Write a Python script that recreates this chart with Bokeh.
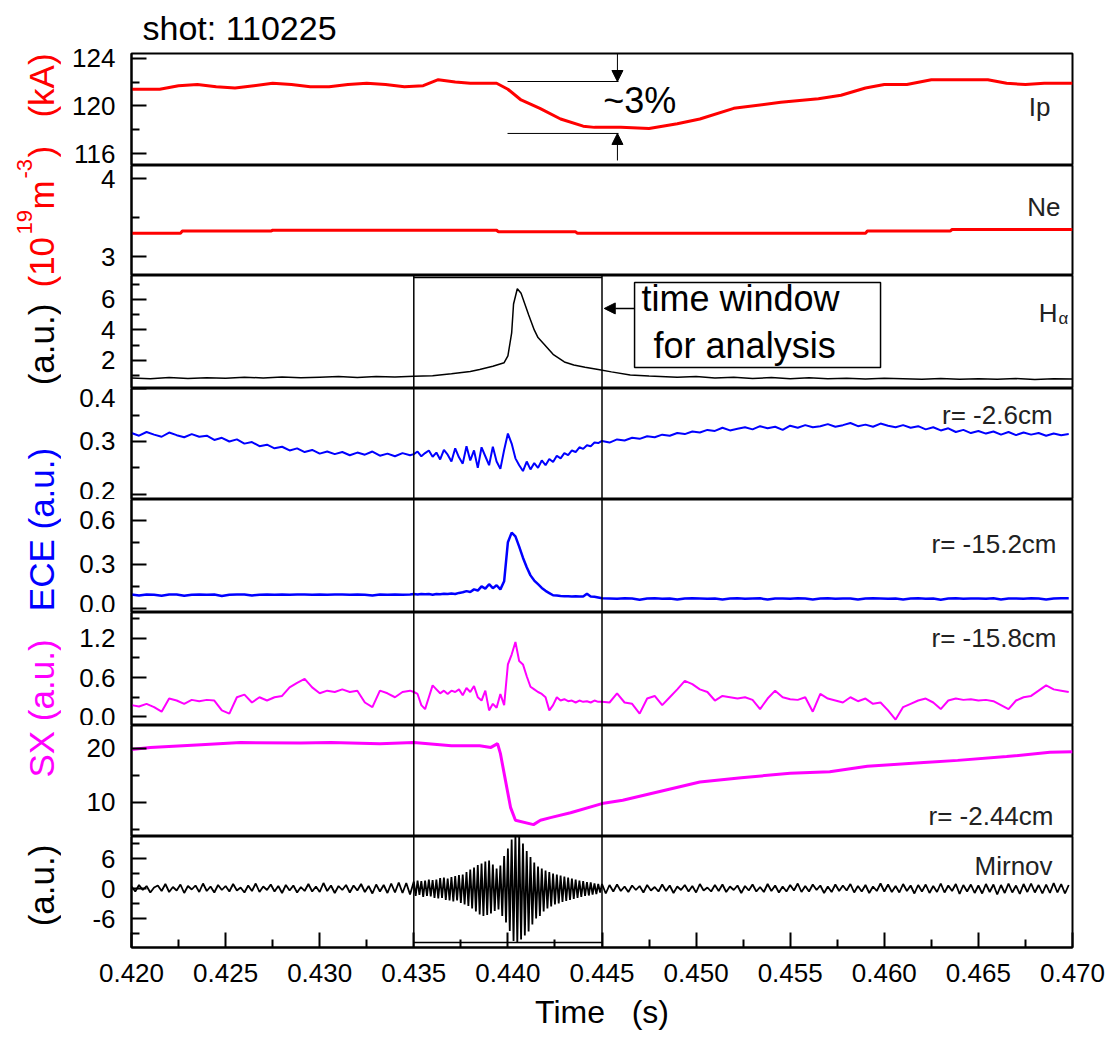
import numpy as np
from bokeh.plotting import figure
from bokeh.layouts import row, column
from bokeh.models import (Range1d, FixedTicker, PrintfTickFormatter, Span, Label,
                          BoxAnnotation, Arrow, NormalHead)
from bokeh.embed import file_html
from bokeh.resources import INLINE

FONT = "Liberation Sans"

# ---------------- data ----------------
shot = "110225"
x_ticks = [0.420, 0.425, 0.430, 0.435, 0.440, 0.445, 0.450, 0.455, 0.460, 0.465, 0.470]
x_minor = [0.4225, 0.4275, 0.4325, 0.4375, 0.4425, 0.4475, 0.4525, 0.4575, 0.4625, 0.4675]
window = [0.435, 0.445]

# plasma current (kA)
ip_t = [0.4200, 0.4215, 0.4225, 0.4235, 0.4245, 0.4255, 0.4265, 0.4275, 0.4285, 0.4295,
        0.4305, 0.4315, 0.4325, 0.4335, 0.4345, 0.4355, 0.4363, 0.4372, 0.4380, 0.4394,
        0.4400, 0.4407, 0.4417, 0.4428, 0.4440, 0.4446, 0.4460, 0.4475, 0.4490, 0.4502,
        0.4520, 0.4545, 0.4565, 0.4577, 0.4590, 0.4600, 0.4612, 0.4625, 0.4640, 0.4655,
        0.4665, 0.4675, 0.4685, 0.4700]
ip_v = [121.4, 121.4, 121.7, 121.8, 121.6, 121.5, 121.7, 121.9, 121.8, 121.6,
        121.6, 121.8, 121.9, 121.8, 121.6, 121.7, 122.2, 122.0, 121.9, 121.9,
        121.4, 120.5, 119.8, 118.9, 118.3, 118.2, 118.2, 118.1, 118.5, 118.9,
        119.8, 120.3, 120.6, 120.9, 121.5, 121.8, 121.8, 122.2, 122.2, 122.2,
        121.9, 121.8, 121.9, 121.9]
ip_drop_t = [0.43998, 0.44588]
ip_drop_levels = [122.05, 117.69]

# line-averaged density (1e19 m^-3)
ne_t = [0.4200, 0.4226, 0.4227, 0.4274, 0.4275, 0.4394, 0.4395, 0.4436, 0.4437, 0.4590,
        0.4591, 0.4635, 0.4636, 0.4700]
ne_v = [3.30, 3.30, 3.33, 3.33, 3.34, 3.34, 3.32, 3.32, 3.30, 3.30,
        3.33, 3.33, 3.35, 3.35]

# H-alpha (a.u.)
ha_t = [0.4200, 0.4210, 0.4220, 0.4230, 0.4240, 0.4250, 0.4260, 0.4270, 0.4280, 0.4290,
        0.4300, 0.4310, 0.4320, 0.4330, 0.4340, 0.4350, 0.4360, 0.4370, 0.4380, 0.4385,
        0.4392, 0.4398, 0.4400, 0.4402, 0.4403, 0.4405, 0.4407, 0.4409, 0.4411, 0.4414,
        0.4416, 0.4419, 0.4424, 0.4430, 0.4435, 0.4441, 0.4448, 0.4455, 0.4465, 0.4475,
        0.4490, 0.4500, 0.4510, 0.4520, 0.4530, 0.4540, 0.4550, 0.4560, 0.4570, 0.4580,
        0.4590, 0.4600, 0.4610, 0.4620, 0.4630, 0.4640, 0.4650, 0.4660, 0.4670, 0.4680,
        0.4690, 0.4700]
ha_v = [0.85, 0.80, 0.88, 0.82, 0.86, 0.83, 0.90, 0.85, 0.92, 0.86,
        0.90, 0.94, 0.88, 0.95, 0.92, 0.97, 1.00, 1.12, 1.28, 1.40,
        1.62, 1.85, 2.30, 3.80, 5.70, 6.70, 6.40, 5.70, 5.00, 4.00,
        3.50, 3.10, 2.40, 1.90, 1.70, 1.55, 1.40, 1.25, 1.05, 0.98,
        0.90, 0.95, 0.85, 0.90, 0.82, 0.88, 0.80, 0.86, 0.80, 0.84,
        0.78, 0.83, 0.80, 0.76, 0.82, 0.77, 0.80, 0.76, 0.81, 0.75,
        0.80, 0.78]

# sampled signals: before window (0.4 ms), inside window (0.2 ms), after window (0.4 ms)
t_pre0, dt_pre = 0.4200, 0.0004
t_win0, dt_win = 0.4350, 0.0002
t_post0, dt_post = 0.4450, 0.0004

ece1_pre = [0.316, 0.311, 0.318, 0.313, 0.309, 0.317, 0.312, 0.308, 0.314, 0.309,
            0.311, 0.303, 0.307, 0.300, 0.304, 0.296, 0.299, 0.291, 0.294, 0.287,
            0.290, 0.283, 0.287, 0.280, 0.284, 0.277, 0.281, 0.276, 0.280, 0.274,
            0.279, 0.275, 0.281, 0.273, 0.277, 0.272, 0.278, 0.274]
ece1_win = [0.276, 0.281, 0.272, 0.278, 0.283, 0.271, 0.279, 0.266, 0.284, 0.275,
            0.262, 0.287, 0.270, 0.258, 0.291, 0.264, 0.283, 0.250, 0.289, 0.272,
            0.255, 0.290, 0.262, 0.248, 0.284, 0.315, 0.296, 0.268, 0.255, 0.244,
            0.262, 0.247, 0.259, 0.250, 0.264, 0.255, 0.267, 0.261, 0.273, 0.268,
            0.278, 0.274, 0.283, 0.280, 0.289, 0.286, 0.293, 0.291, 0.298, 0.297]
ece1_post = [0.301, 0.298, 0.304, 0.302, 0.307, 0.305, 0.310, 0.308, 0.313, 0.311,
             0.316, 0.314, 0.319, 0.317, 0.322, 0.320, 0.326, 0.321, 0.324, 0.327,
             0.323, 0.329, 0.325, 0.328, 0.322, 0.330, 0.326, 0.331, 0.327, 0.329,
             0.333, 0.328, 0.331, 0.335, 0.329, 0.332, 0.328, 0.334, 0.330, 0.327,
             0.331, 0.326, 0.329, 0.323, 0.327, 0.321, 0.325, 0.318, 0.322, 0.316,
             0.320, 0.315, 0.319, 0.313, 0.318, 0.312, 0.317, 0.313, 0.316, 0.311,
             0.315, 0.312, 0.314]

ece2_pre = [0.095, 0.088, 0.095, 0.094, 0.087, 0.095, 0.095, 0.086, 0.094, 0.095,
            0.094, 0.095, 0.085, 0.094, 0.095, 0.095, 0.088, 0.094, 0.095, 0.094,
            0.095, 0.094, 0.095, 0.095, 0.094, 0.095, 0.094, 0.095, 0.095, 0.094,
            0.095, 0.094, 0.088, 0.095, 0.094, 0.095, 0.094, 0.095]
ece2_win = [0.098, 0.095, 0.099, 0.097, 0.098, 0.094, 0.099, 0.097, 0.100, 0.098,
            0.102, 0.099, 0.106, 0.110, 0.118, 0.112, 0.130, 0.122, 0.150, 0.135,
            0.165, 0.138, 0.158, 0.130, 0.185, 0.450, 0.515, 0.490, 0.420, 0.345,
            0.280, 0.225, 0.190, 0.165, 0.140, 0.120, 0.105, 0.090, 0.088, 0.085,
            0.084, 0.083, 0.082, 0.083, 0.082, 0.081, 0.100, 0.082, 0.080, 0.075]
ece2_post = [0.070, 0.068, 0.066, 0.069, 0.068, 0.060, 0.068, 0.069, 0.067, 0.068,
             0.061, 0.068, 0.069, 0.068, 0.067, 0.068, 0.062, 0.068, 0.069, 0.067,
             0.068, 0.069, 0.061, 0.068, 0.068, 0.067, 0.069, 0.068, 0.062, 0.068,
             0.069, 0.067, 0.068, 0.068, 0.061, 0.068, 0.069, 0.068, 0.067, 0.068,
             0.062, 0.068, 0.069, 0.067, 0.068, 0.060, 0.068, 0.069, 0.067, 0.068,
             0.068, 0.067, 0.069, 0.061, 0.068, 0.068, 0.067, 0.069, 0.068, 0.062,
             0.068, 0.069, 0.070]

sx1_pre = [0.18, 0.16, 0.20, 0.15, 0.08, 0.28, 0.25, 0.20, 0.26, 0.24,
           0.26, 0.25, 0.10, 0.05, 0.30, 0.34, 0.22, 0.30, 0.25, 0.30,
           0.32, 0.45, 0.52, 0.58, 0.45, 0.36, 0.40, 0.38, 0.42, 0.38,
           0.40, 0.22, 0.15, 0.40, 0.36, 0.30, 0.38, 0.40]
sx1_win = [0.38, 0.35, 0.18, 0.12, 0.30, 0.48, 0.42, 0.36, 0.40, 0.35,
           0.40, 0.38, 0.42, 0.33, 0.44, 0.38, 0.47, 0.30, 0.25, 0.40,
           0.10, 0.20, 0.14, 0.35, 0.18, 0.80, 0.95, 1.14, 0.85, 0.80,
           0.62, 0.46, 0.42, 0.38, 0.35, 0.30, 0.10, 0.18, 0.30, 0.25,
           0.27, 0.24, 0.25, 0.22, 0.25, 0.23, 0.24, 0.22, 0.25, 0.23]
sx1_post = [0.23, 0.22, 0.36, 0.22, 0.20, 0.05, 0.28, 0.32, 0.18, 0.30,
            0.42, 0.55, 0.50, 0.42, 0.38, 0.25, 0.32, 0.30, 0.28, 0.30,
            0.26, 0.12, 0.28, 0.40, 0.30, 0.27, 0.26, 0.30, 0.08, 0.35,
            0.28, 0.25, 0.22, 0.30, 0.24, 0.28, 0.20, 0.22, 0.10, -0.04,
            0.15, 0.20, 0.25, 0.28, 0.22, 0.12, 0.25, 0.28, 0.26, 0.27,
            0.25, 0.26, 0.24, 0.18, 0.12, 0.25, 0.30, 0.32, 0.40, 0.48,
            0.42, 0.40, 0.38]

sx2_t = [0.4200, 0.4210, 0.4237, 0.4258, 0.4290, 0.4306, 0.4332, 0.4350, 0.4370, 0.4385,
         0.4391, 0.43945, 0.4396, 0.43987, 0.44014, 0.4404, 0.44136, 0.44173, 0.44226, 0.44333,
         0.4450, 0.4461, 0.4479, 0.4502, 0.4524, 0.4550, 0.4571, 0.4591, 0.4621, 0.4639,
         0.4665, 0.4688, 0.4700]
sx2_v = [19.8, 20.2, 20.7, 21.1, 21.0, 21.1, 20.9, 21.1, 20.5, 20.5,
         20.2, 20.9, 19.1, 14.1, 9.1, 6.7, 5.9, 6.7, 7.2, 8.1,
         9.8, 10.4, 11.9, 13.8, 14.6, 15.4, 15.7, 16.7, 17.4, 17.8,
         18.5, 19.3, 19.4]

# Mirnov coil: 0.2 ms before/after, 0.1 ms inside the window
mir_dt_out = 0.0002
mir_dt_win = 0.0001
mir_pre = [0.4, -0.6, 0.7, -0.3, 0.5, -0.8, 0.2, 0.6, -0.5, 0.9,
           -0.7, 0.3, -0.4, 0.8, -0.9, 0.5, -0.2, 0.6, -0.7, 1.0,
           -0.5, 0.4, -0.8, 0.7, -0.3, 0.5, -0.6, 0.9, -0.4, 0.2,
           -0.8, 0.6, -0.5, 1.0, -0.7, 0.4, -0.3, 0.8, -0.6, 0.5,
           -0.9, 0.7, -0.4, 0.6, -0.8, 0.3, -0.5, 0.9, -0.6, 0.4,
           -0.7, 1.1, -0.5, 0.6, -0.9, 0.5, -0.3, 0.7, -0.8, 0.6,
           -0.4, 0.9, -0.7, 0.5, -1.0, 0.8, -0.6, 0.7, -0.9, 1.0,
           -0.8, 1.2, -0.9, 1.1, -1.2]
mir_win = [1.4, -1.5, 1.6, -1.3, 1.5, -1.7, 1.6, -1.5, 1.8, -1.6,
           1.7, -1.9, 1.8, -2.0, 2.1, -1.9, 2.2, -2.3, 2.0, -2.4,
           2.3, -2.6, 2.5, -2.4, 2.7, -2.9, 2.8, -3.2, 3.3, -3.5,
           3.8, -4.0, 4.2, -4.6, 4.7, -5.2, 5.0, -5.5, 5.4, -5.3,
           5.6, -5.0, 4.8, -4.5, 4.0, -4.2, 4.6, -5.5, 6.5, -6.8,
           8.0, -8.5, 9.8, -10.5, 10.8, -10.9, 10.6, -10.2, 9.0, -9.4,
           7.5, -8.6, 6.3, -7.2, 5.2, -6.0, 4.4, -5.5, 4.0, -4.6,
           3.6, -4.0, 3.3, -3.6, 3.0, -3.2, 2.8, -3.0, 2.6, -2.7,
           2.4, -2.5, 2.2, -2.3, 2.0, -2.1, 1.8, -1.9, 1.6, -1.7,
           1.5, -1.5, 1.3, -1.4, 1.2, -1.2, 1.0, -1.1, 0.9, -0.8]
mir_post = [0.9, -1.0, 0.7, -0.6, 0.8, -0.5, 0.4, -0.7, 0.6, -0.3,
            0.5, -0.8, 0.7, -0.4, 0.3, -0.6, 0.8, -0.5, 0.6, -0.9,
            0.4, -0.3, 0.7, -0.6, 0.5, -0.8, 0.9, -0.4, 0.2, -0.6,
            0.7, -0.5, 0.8, -0.7, 0.4, -0.3, 0.6, -0.9, 0.5, -0.4,
            0.8, -0.6, 0.3, -0.7, 0.9, -0.5, 0.6, -0.8, 0.4, -0.6,
            0.7, -0.4, 1.0, -0.7, 0.5, -0.6, 0.8, -0.3, 0.6, -0.9,
            0.4, -0.7, 0.8, -0.5, 0.6, -0.4, 0.9, -0.8, 0.5, -0.6,
            0.7, -0.9, 0.4, -0.5, 1.0, -0.6, 0.8, -0.7, 0.5, -0.8,
            0.9, -0.5, 0.6, -1.0, 0.7, -0.6, 0.8, -0.9, 0.5, -0.7,
            1.0, -0.8, 0.6, -0.5, 0.9, -1.1, 0.7, -0.6, 0.8, -0.9,
            0.6, -1.0, 0.9, -0.7, 0.8, -1.2, 0.7, -0.9, 1.0, -0.8,
            0.6, -1.1, 0.9, -0.7, 1.0, -0.8, 0.7, -1.0, 0.8, -0.9,
            1.1, -0.8, 0.9, -1.0, 0.7]


def three_part(pre, win, post, dtw=dt_win, dto=None):
    d_pre = dt_pre if dto is None else dto
    d_post = dt_post if dto is None else dto
    t = np.concatenate([t_pre0 + d_pre * np.arange(len(pre)),
                        t_win0 + dtw * np.arange(len(win)),
                        t_post0 + d_post * np.arange(len(post))])
    return t, np.array(pre + win + post)


ece1_t, ece1_v = three_part(ece1_pre, ece1_win, ece1_post)
ece2_t, ece2_v = three_part(ece2_pre, ece2_win, ece2_post)
sx1_t, sx1_v = three_part(sx1_pre, sx1_win, sx1_post)
mir_t, mir_v = three_part(mir_pre, mir_win, mir_post, mir_dt_win, mir_dt_out)

# ---------------- layout ----------------
xr = Range1d(0.420, 0.470)
FW = 941
LEFT = 70
RIGHT = 36
LABW = 61


def panel(fh, y0, y1, ticks, minor, fmt, top=0, bottom=0, xaxis=False):
    p = figure(frame_width=FW, frame_height=fh, x_range=xr, y_range=Range1d(y0, y1),
               output_backend="svg", toolbar_location=None,
               min_border_left=LEFT, min_border_right=RIGHT,
               min_border_top=top, min_border_bottom=bottom,
               x_axis_location="below" if xaxis else None)
    p.grid.visible = False
    p.outline_line_color = "black"
    p.outline_line_width = 2
    p.outline_line_alpha = 1
    ya = p.yaxis[0]
    ya.ticker = FixedTicker(ticks=ticks, minor_ticks=minor)
    ya.formatter = PrintfTickFormatter(format=fmt)
    ya.major_tick_in = 15
    ya.major_tick_out = 0
    ya.minor_tick_in = 8
    ya.minor_tick_out = 0
    ya.major_tick_line_width = 2
    ya.minor_tick_line_width = 2
    ya.axis_line_width = 2
    ya.major_label_text_font = FONT
    ya.major_label_text_font_size = "26px"
    ya.major_label_text_color = "black"
    ya.major_label_standoff = 16
    return p


def tag(p, text, x, y, size="26px", align="right", color="#222222"):
    p.add_layout(Label(x=x, y=y, text=text, text_font=FONT, text_font_size=size,
                       text_align=align, text_baseline="middle", text_color=color))


# Panel 1: Ip
p1 = panel(112, 115.0, 124.4, [116, 120, 124], [118, 122], "%d", top=53)
p1.title.text = "shot: " + shot
p1.title.align = "left"
p1.title.offset = 11
p1.title.standoff = 13
p1.title.text_font = FONT
p1.title.text_font_size = "34px"
p1.title.text_font_style = "normal"
p1.title.text_color = "black"
p1.line(ip_t, ip_v, line_color="red", line_width=3)
p1.segment(x0=[ip_drop_t[0]] * 2, y0=ip_drop_levels, x1=[ip_drop_t[1]] * 2, y1=ip_drop_levels,
           line_color="black", line_width=1)
p1.add_layout(Arrow(end=NormalHead(size=11, fill_color="black", line_color="black"),
                    x_start=0.44582, y_start=125.49, x_end=0.44582, y_end=ip_drop_levels[0],
                    line_color="black", line_width=1))
p1.add_layout(Arrow(end=NormalHead(size=11, fill_color="black", line_color="black"),
                    x_start=0.44582, y_start=115.42, x_end=0.44582, y_end=ip_drop_levels[1],
                    line_color="black", line_width=1))
tag(p1, "~3%", 0.44507, 120.46, size="36px", align="left", color="black")
tag(p1, "Ip", 0.46883, 119.87)

# Panel 2: Ne
p2 = panel(110, 2.76, 4.17, [3, 4], [3.5], "%d")
p2.line(ne_t, ne_v, line_color="red", line_width=3)
tag(p2, "Ne", 0.46936, 3.644)

# Panel 3: H-alpha
p3 = panel(113, 0.16, 7.57, [2, 4, 6], [1, 3, 5, 7], "%d")
p3.line(ha_t, ha_v, line_color="black", line_width=1.5)
tag(p3, "H", 0.46920, 5.14)
tag(p3, "α", 0.46926, 4.75, size="17px", align="left")
p3.add_layout(BoxAnnotation(left=0.44673, right=0.45980, bottom=1.54, top=7.11,
                            fill_alpha=0, line_color="black", line_width=1.5, line_alpha=1))
tag(p3, "time window", 0.44710, 6.03, size="36px", align="left", color="black")
tag(p3, "for analysis", 0.44774, 2.95, size="36px", align="left", color="black")
p3.add_layout(Arrow(end=NormalHead(size=11, fill_color="black", line_color="black"),
                    x_start=0.44673, y_start=5.41, x_end=0.44512, y_end=5.41,
                    line_color="black", line_width=1.5))
p3.segment(x0=[window[0]], y0=[7.44], x1=[window[1]], y1=[7.44], line_color="black", line_width=1.5)

# Panel 4: ECE r=-2.6
p4 = panel(111, 0.19, 0.4005, [0.2, 0.3, 0.4], [0.25, 0.35], "%.1f")
p4.line(ece1_t, ece1_v, line_color="blue", line_width=2)
tag(p4, "r= -2.6cm", 0.46894, 0.351)

# Panel 5: ECE r=-15.2
p5 = panel(113, -0.027, 0.74, [0.0, 0.3, 0.6], [0.15, 0.45], "%.1f")
p5.line(ece2_t, ece2_v, line_color="blue", line_width=2.5)
tag(p5, "r= -15.2cm", 0.46915, 0.441)

# Panel 6: SX r=-15.8
p6 = panel(113, -0.13, 1.59, [0.0, 0.6, 1.2], [0.3, 0.9, 1.5], "%.1f")
p6.line(sx1_t, sx1_v, line_color="magenta", line_width=2)
tag(p6, "r= -15.8cm", 0.46915, 1.209)

# Panel 7: SX r=-2.44
p7 = panel(111, 3.7, 24.26, [10, 20], [5, 15], "%d")
p7.line(sx2_t, sx2_v, line_color="magenta", line_width=3)
tag(p7, "r= -2.44cm", 0.46899, 7.42)

# Panel 8: Mirnov
p8 = panel(111, -11.8, 10.4, [-6, 0, 6], [-9, -3, 3, 9], "%d", bottom=84, xaxis=True)
p8.line(mir_t, mir_v, line_color="black", line_width=1.8)
tag(p8, "Mirnov", 0.46894, 4.6)
p8.segment(x0=[window[0]], y0=[-10.8], x1=[window[1]], y1=[-10.8], line_color="black", line_width=1.5)
xa = p8.xaxis[0]
xa.ticker = FixedTicker(ticks=x_ticks, minor_ticks=x_minor)
xa.formatter = PrintfTickFormatter(format="%.3f")
xa.major_tick_in = 15
xa.major_tick_out = 0
xa.minor_tick_in = 8
xa.minor_tick_out = 0
xa.major_tick_line_width = 2
xa.minor_tick_line_width = 2
xa.axis_line_width = 2
xa.major_label_text_font = FONT
xa.major_label_text_font_size = "26px"
xa.major_label_text_color = "black"
xa.major_label_standoff = 16
xa.axis_label = "Time\u00a0\u00a0\u00a0(s)"
xa.axis_label_text_font = FONT
xa.axis_label_text_font_size = "32px"
xa.axis_label_text_font_style = "normal"
xa.axis_label_text_color = "black"
xa.axis_label_standoff = 9

for p in (p3, p4, p5, p6, p7, p8):
    for w in window:
        p.add_layout(Span(location=w, dimension="height", line_color="black", line_width=1.5))

# Left-side rotated axis titles (page pixel coordinates in this strip)
lab = figure(width=LABW, height=1040, x_range=Range1d(0, LABW), y_range=Range1d(1040, 0),
             output_backend="svg", toolbar_location=None, min_border=0,
             x_axis_location=None, y_axis_location=None, outline_line_color=None)
lab.grid.visible = False


def vtext(text, x, y, color, size="35px", align="center"):
    lab.add_layout(Label(x=x, y=y, text=text, angle=np.pi / 2, angle_units="rad",
                         text_font=FONT, text_font_size=size, text_align=align,
                         text_baseline="middle", text_color=color))


vtext("(kA)", 41, 85, "red")
vtext("(10", 41, 287, "red", align="left")
vtext("19", 23.5, 234, "red", size="22px", align="left")
vtext("m", 41, 209, "red", align="left")
vtext("-3", 23.5, 178, "red", size="22px", align="left")
vtext(")", 41, 157, "red", align="left")
vtext("(a.u.)", 41, 344, "black")
vtext("ECE (a.u.)", 41, 529, "blue")
vtext("SX (a.u.)", 41, 708, "magenta")
vtext("(a.u.)", 41, 885, "black")

layout = row(lab, column(p1, p2, p3, p4, p5, p6, p7, p8))
open("out.html", "w").write(file_html(layout, INLINE, title="shot 110225"))
